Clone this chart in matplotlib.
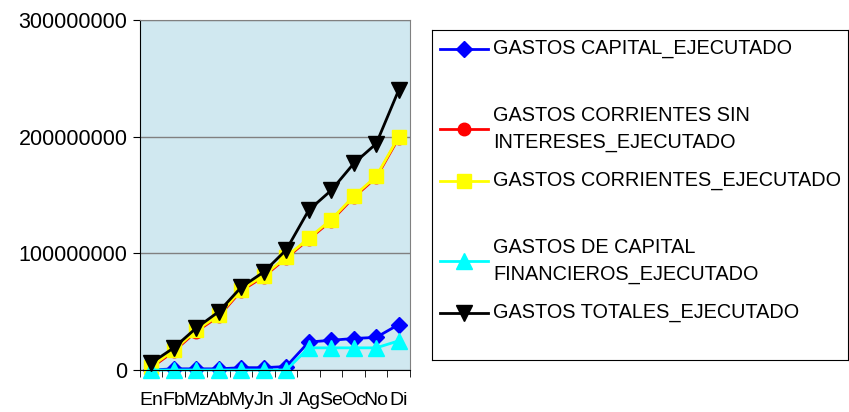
import matplotlib.pyplot as plt
from matplotlib.lines import Line2D

plt.rcParams['font.family'] = ['Liberation Sans', 'DejaVu Sans']

meses = ["En", "Fb", "Mz", "Ab", "My", "Jn", "Jl", "Ag", "Se", "Oc", "No", "Di"]
capital = [0, 1e6, 1e6, 1e6, 2e6, 2e6, 3e6, 24e6, 25.5e6, 27e6, 28e6, 39e6]
corr_sin_int = [2e6, 16e6, 33e6, 46e6, 68e6, 80e6, 96e6, 112e6, 128e6, 148e6, 165e6, 199e6]
corrientes = [3e6, 17e6, 34e6, 47e6, 69e6, 81e6, 97e6, 113e6, 129e6, 149e6, 166e6, 200e6]
cap_financ = [0, 0, 0, 0, 0, 0, 0, 19e6, 19e6, 19e6, 19e6, 25e6]
totales = [6e6, 19e6, 36e6, 50e6, 71e6, 84e6, 103e6, 137e6, 154e6, 177e6, 194e6, 240e6]

series = [
    ("GASTOS CAPITAL_EJECUTADO", capital, "#0000FF", "D", 8),
    ("GASTOS CORRIENTES SIN\nINTERESES_EJECUTADO", corr_sin_int, "#FF0000", "o", 9),
    ("GASTOS CORRIENTES_EJECUTADO", corrientes, "#FFFF00", "s", 10),
    ("GASTOS DE CAPITAL\nFINANCIEROS_EJECUTADO", cap_financ, "#00FFFF", "^", 11),
    ("GASTOS TOTALES_EJECUTADO", totales, "#000000", "v", 11),
]

fig = plt.figure(figsize=(8.49, 4.12), dpi=100)
ax = fig.add_axes([0.1649, 0.1019, 0.318, 0.8496])
ax.set_facecolor("#D0E8F0")

x = list(range(len(meses)))
for name, vals, col, mk, ms in series:
    ax.plot(x, vals, color=col, marker=mk, markersize=ms, linewidth=2, clip_on=False)

ax.set_xlim(-0.5, 11.5)
ax.set_ylim(0, 300000000)
ax.set_yticks([0, 100000000, 200000000, 300000000])
ax.set_yticklabels(["0", "100000000", "200000000", "300000000"], fontsize=15.5)
ax.set_xticks(x)
ax.set_xticklabels(meses, fontsize=14)
ax.set_xticks([i + 0.5 for i in range(-1, 12)], minor=True)
ax.tick_params(axis='x', which='major', length=0, pad=16)
ax.tick_params(axis='x', which='minor', length=5, color="black")
ax.tick_params(axis='y', length=5, color="black", pad=4)
ax.grid(axis='y', color="#808080", linewidth=1)
for s in ["top", "right"]:
    ax.spines[s].set_color("#808080")
for s in ["left", "bottom"]:
    ax.spines[s].set_color("black")

# leyenda dibujada a mano
lax = fig.add_axes([432 / 849, (412 - 360) / 412, (848 - 432) / 849, 330 / 412])
lax.set_xlim(432, 848)
lax.set_ylim(360, 30)
lax.set_xticks([])
lax.set_yticks([])
for s in lax.spines.values():
    s.set_color("black")
ypos = [49, 129, 181, 261, 313]
for (name, vals, col, mk, ms), yy in zip(series, ypos):
    lax.add_line(Line2D([440, 488], [yy, yy], color=col, linewidth=2))
    lax.plot([464], [yy], marker=mk, color=col, markersize=ms, linestyle="none")
    lax.text(493, yy, name, fontsize=14.3, va="center", ha="left", linespacing=1.5)

fig.savefig("out.png", dpi=100)
